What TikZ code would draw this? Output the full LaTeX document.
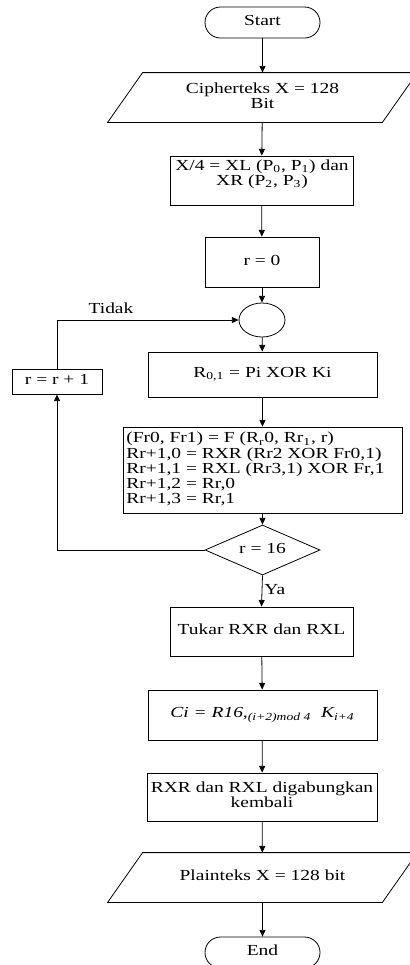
\documentclass[tikz,border=0pt]{standalone}
\usepackage{fontspec}
\setmainfont{Liberation Serif}
\usepackage{graphicx}
\usetikzlibrary{shapes.geometric,arrows.meta,calc}
\newcommand\tx[2][c]{\scalebox{1.27}[1]{\begin{tabular}{@{}#1@{}}#2\end{tabular}}}
\newcommand\fs{\fontsize{11.5pt}{11.3pt}\selectfont}
\begin{document}
\begin{tikzpicture}[x=0.75pt,y=-0.75pt,font=\fs,line width=0.6pt,
  box/.style={draw, rectangle, inner sep=0pt},
  term/.style={box, rounded corners=11.6pt, minimum width=86.25pt, minimum height=23.25pt},
  io/.style={rectangle, inner sep=0pt, minimum width=205.5pt, minimum height=36.75pt},
  arr/.style={-{Triangle[length=5pt,width=4.5pt]}}]
\path[use as bounding box] (0,0) rectangle (410,965);
\clip (0,0) rectangle (410,965);

\node[term] (start) at (262.5,22.5) {\tx{Start}};
\node[io] (cin) at (262.5,97.5) {\tx{Cipherteks X = 128\\Bit}};
\draw ($(cin.south west)+(-17.5,0)$) -- ($(cin.south east)+(-17.5,0)$) -- ($(cin.north east)+(17.5,0)$) -- ($(cin.north west)+(17.5,0)$) -- cycle;
\node[box, minimum width=137.25pt, minimum height=36.75pt] (x4) at (261.5,180.5) {};
\node[anchor=north, inner sep=0pt] (x4t) at (262,159) {\tx{X/4 = XL (P\textsubscript{0}, P\textsubscript{1}) dan\\XR (P\textsubscript{2}, P\textsubscript{3})}};
\node[box, minimum width=85.5pt, minimum height=37.5pt] (r0) at (262,262) {\tx{r = 0}};
\node[draw, ellipse, minimum width=34.5pt, minimum height=25.5pt, inner sep=0pt] (circ) at (262,320) {};
\node[box, minimum width=171.75pt, minimum height=33.75pt] (r01) at (262.5,374.5) {\tx{R\textsubscript{0,1} = Pi XOR Ki}};
\node[box, minimum width=209.25pt, minimum height=64.5pt] (big) at (262.5,470) {};
\node[anchor=west, inner sep=0pt] (bigt) at (126,470) {\tx[l]{(Fr0, Fr1) = F (R\textsubscript{r}0, Rr\textsubscript{1}, r)\\Rr+1,0 = RXR (Rr2 XOR Fr0,1)\\Rr+1,1 = RXL (Rr3,1) XOR Fr,1\\Rr+1,2 = Rr,0\\Rr+1,3 = Rr,1}};
\node[draw, diamond, aspect=2.3, inner sep=0pt, minimum width=86.25pt, minimum height=37.5pt] (dia) at (262.5,550) {\tx{r = 16}};
\node[box, minimum width=67.5pt, minimum height=18.75pt] (rr) at (57,381.5) {\tx{r = r + 1}};
\node[inner sep=0pt] (tidak) at (111,310) {\tx{Tidak}};
\node[box, minimum width=137.25pt, minimum height=36.75pt] (tukar) at (261.5,631.5) {\tx{Tukar RXR dan RXL}};
\node[box, minimum width=171.75pt, minimum height=37.5pt] (ci) at (262.5,715) {\tx{\itshape Ci = R16,\textsubscript{(i+2)mod 4}\ \ K\textsubscript{i+4}}};
\node[box, minimum width=172.5pt, minimum height=36pt] (gab) at (262,797) {\tx{RXR dan RXL digabungkan\\kembali}};
\node[io] (pout) at (262.5,877.5) {\tx{Plainteks X = 128 bit}};
\draw ($(pout.south west)+(-17.5,0)$) -- ($(pout.south east)+(-17.5,0)$) -- ($(pout.north east)+(17.5,0)$) -- ($(pout.north west)+(17.5,0)$) -- cycle;
\node[term] (end) at (262.5,952.5) {\tx{End}};

\draw[arr] (start) -- (cin);
\draw[arr] (cin) -- (x4);
\draw[arr] (x4) -- (r0);
\draw[arr] (r0) -- (circ);
\draw[arr] (circ) -- (r01);
\draw[arr] (r01.south) -- (big.north);
\draw[arr] (big.south) -- (dia.north);
\draw[arr] (dia.south) -- node[right, inner sep=1.5pt] (ya) {\tx{Ya}} (tukar.north);
\draw[arr] (tukar) -- (ci);
\draw[arr] (ci) -- (gab);
\draw[arr] (gab) -- (pout);
\draw[arr] (pout) -- (end);
\draw[arr] (dia.west) -| (rr.south);
\draw[arr] (rr.north) |- (circ.west);
\end{tikzpicture}
\end{document}
